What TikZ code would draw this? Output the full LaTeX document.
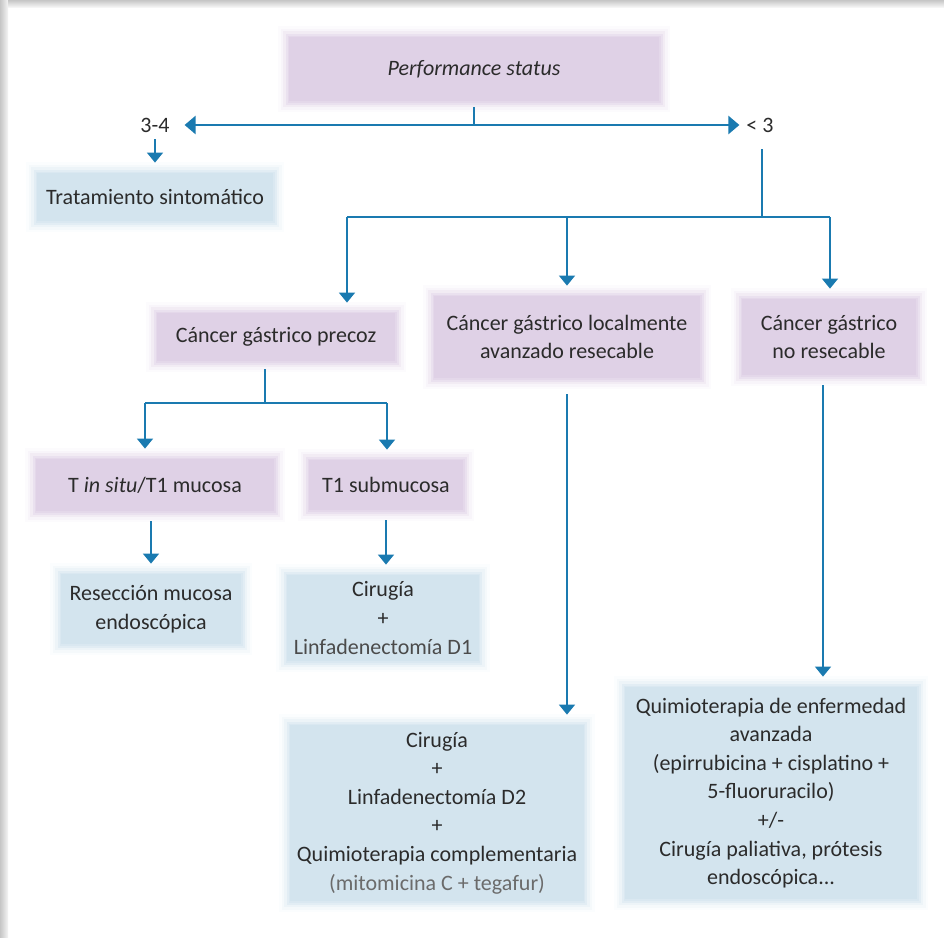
\documentclass[tikz,border=0pt]{standalone}
\usepackage{fontspec}
\setmainfont{Carlito}
\usetikzlibrary{positioning}
\usetikzlibrary{arrows.meta}
\definecolor{boxpurple}{HTML}{DFD1E6}
\definecolor{boxblue}{HTML}{D3E4EE}
\definecolor{arrowblue}{HTML}{1A7AB0}
\definecolor{textgray}{HTML}{2B2B2B}
\tikzset{
    boxfont/.style = {font=\fontsize{11}{14.3}\selectfont},
    softedge/.style = {fill=#1,
        preaction={draw=#1!8, line width=11pt},
        preaction={draw=#1!22, line width=8.5pt},
        preaction={draw=#1!42, line width=6pt},
        preaction={draw=#1!65, line width=3.5pt},
        preaction={draw=#1!85, line width=1.5pt}},
    mynodep/.style = {rectangle, align=center, text=textgray, boxfont, softedge=boxpurple},
    mynodeb/.style = {rectangle, align=center, text=textgray, boxfont, softedge=boxblue},
    mylabel/.style = {text=textgray, boxfont},
    edgen/.style = {draw=arrowblue, line width=0.8pt},
    edgea/.style = {-{Triangle[width=8pt,length=5pt]}, draw=arrowblue, line width=0.8pt},
    edgeaa/.style = {{Triangle[width=9pt,length=5.5pt]}-{Triangle[width=9pt,length=5.5pt]}, draw=arrowblue, line width=1.2pt}
}
\begin{document}
\begin{tikzpicture}[x=0.5pt,y=-0.5pt]
\useasboundingbox (0,0) rectangle (944,938);
% frame
\fill[white] (0,0) rectangle (944,938);
\fill[left color=gray!45, right color=gray!8] (0,0) rectangle (8,938);
\fill[top color=gray!45, bottom color=gray!8] (8,0) rectangle (944,7);
%
\node[mynodep, minimum width=185pt, minimum height=32pt, font=\fontsize{11}{14.3}\selectfont\itshape] at (474,69) (ps) {Performance status};
\node[mylabel] at (155,125) (l34) {3-4};
\node[mylabel] at (760,125) (l3) {< 3};
\node[mynodeb, minimum width=118pt, minimum height=24pt] at (155,197) (trat) {Tratamiento sintomático};
\node[mynodep, minimum width=119pt, minimum height=24pt] at (276,337) (precoz) {Cáncer gástrico precoz};
\node[mynodep, minimum width=133pt, minimum height=41pt] at (567,337) (local) {Cáncer gástrico localmente\\avanzado resecable};
\node[mynodep, minimum width=87pt, minimum height=38pt] at (829,337) (noresec) {Cáncer gástrico\\no resecable};
\node[mynodep, minimum width=119pt, minimum height=26pt] at (155,485) (insitu) {T \textit{in situ}/T1 mucosa};
\node[mynodep, minimum width=77pt, minimum height=25pt] at (386,485) (submuc) {T1 submucosa};
\node[mynodeb, minimum width=90pt, minimum height=35pt] at (151,609) (resec) {Resección mucosa\\endoscópica};
\node[mynodeb, minimum width=91pt, minimum height=43pt] at (383,618) (cird1) {Cirugía\\+\\\textcolor{textgray!85}{Linfadenectomía D1}};
\node[mynodeb, minimum width=146pt, minimum height=88pt] at (437,813) (cird2) {Cirugía\\+\\Linfadenectomía D2\\+\\Quimioterapia complementaria\\\textcolor{textgray!70}{(mitomicina C + tegafur)}};
\node[mynodeb, minimum width=146pt, minimum height=106pt] at (771,793) (quimio) {Quimioterapia de enfermedad\\avanzada\\(epirrubicina + cisplatino +\\5-fluoruracilo)\\+/-\\Cirugía paliativa, prótesis\\endoscópica...};
%
\coordinate (j1) at (474,125);
\coordinate (j2) at (762,217);
\coordinate (j2l) at (347,217);
\coordinate (j2m) at (567,217);
\coordinate (j2r) at (830,217);
\coordinate (j3) at (265,403);
\coordinate (j3l) at (145,403);
\coordinate (j3r) at (387,403);
%
\draw[edgen,shorten <=3pt] (ps.south) -- (j1);
\draw[edgeaa,shorten <=4pt] (l34.east) -- (l3.west);
\draw[edgea,shorten >=5pt] (l34.south) -- (trat.north);
\draw[edgen,shorten <=5pt] (l3.south -| j2) -- (j2);
\draw[edgen] (j2l) -- (j2r);
\draw[edgea,shorten >=5pt] (j2l) -- (j2l |- precoz.north);
\draw[edgea,shorten >=5pt] (j2m) -- (j2m |- local.north);
\draw[edgea,shorten >=5pt] (j2r) -- (j2r |- noresec.north);
\draw[edgen,shorten <=4pt] (precoz.south -| j3) -- (j3);
\draw[edgen] (j3l) -- (j3r);
\draw[edgea,shorten >=5pt] (j3l) -- (j3l |- insitu.north);
\draw[edgea,shorten >=5pt] (j3r) -- (j3r |- submuc.north);
\draw[edgea,shorten <=5pt,shorten >=5pt] (resec.north |- insitu.south) -- (resec.north);
\draw[edgea,shorten <=5pt,shorten >=5pt] (submuc.south) -- (submuc.south |- cird1.north);
\draw[edgea,shorten <=8pt,shorten >=5pt] (local.south) -- (local.south |- cird2.north);
\draw[edgea,shorten <=5pt,shorten >=5pt] ([xshift=-3pt]noresec.south) -- ([xshift=-3pt]noresec.south |- quimio.north);
\end{tikzpicture}
\end{document}
